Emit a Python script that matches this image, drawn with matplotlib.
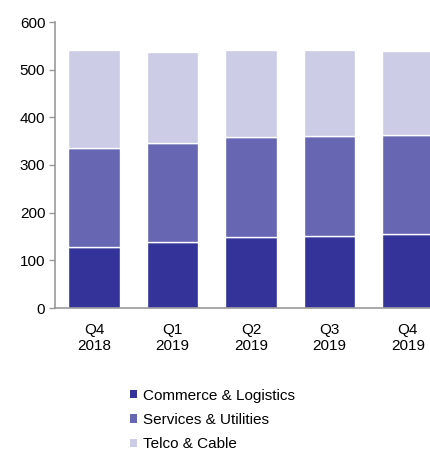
import matplotlib
matplotlib.use("Agg")
import matplotlib.pyplot as plt
from matplotlib.patches import Patch
import numpy as np

plt.rcParams['font.family'] = ['Liberation Sans', 'DejaVu Sans']

categories = ["Q4\n2018", "Q1\n2019", "Q2\n2019", "Q3\n2019", "Q4\n2019"]
commerce = [128, 139, 148, 152, 155]
services = [207, 207, 210, 209, 207]
telco = [207, 191, 183, 180, 178]
series_names = ["Commerce & Logistics", "Services & Utilities", "Telco & Cable"]
colors = ["#333399", "#6666B3", "#CCCCE6"]

fig = plt.figure(figsize=(4.3, 4.5), dpi=100)
ax = fig.add_axes([55/430, 142/450, 392/430, 286/450])

x = np.arange(len(categories))
bottom = np.zeros(len(categories))
for vals, c in zip([commerce, services, telco], colors):
    ax.bar(x, vals, width=0.66, bottom=bottom, color=c, edgecolor="white", linewidth=1.0)
    bottom += np.array(vals)

fs = 11
ax.set_xlim(-0.5, 4.5)
ax.set_ylim(0, 600)
ax.set_yticks(range(0, 601, 100))
ax.set_xticks(x)
ax.set_xticklabels(categories, fontsize=fs, linespacing=1.15)
ax.tick_params(axis='y', labelsize=fs, length=4, color="#999999", width=1, pad=3)
ax.tick_params(axis='x', length=0, pad=11)
for s in ["top", "right"]:
    ax.spines[s].set_visible(False)
for s in ["left", "bottom"]:
    ax.spines[s].set_color("#999999")
    ax.spines[s].set_linewidth(1.2)

handles = [Patch(facecolor=c, edgecolor="none") for c in colors]
fig.legend(handles, series_names, loc="upper left", bbox_to_anchor=(122/430, 1 - 381/450),
           frameon=False, fontsize=fs, handlelength=0.45, handleheight=0.45,
           handletextpad=0.4, labelspacing=0.68, borderpad=0)

fig.savefig("out.png", dpi=100)
